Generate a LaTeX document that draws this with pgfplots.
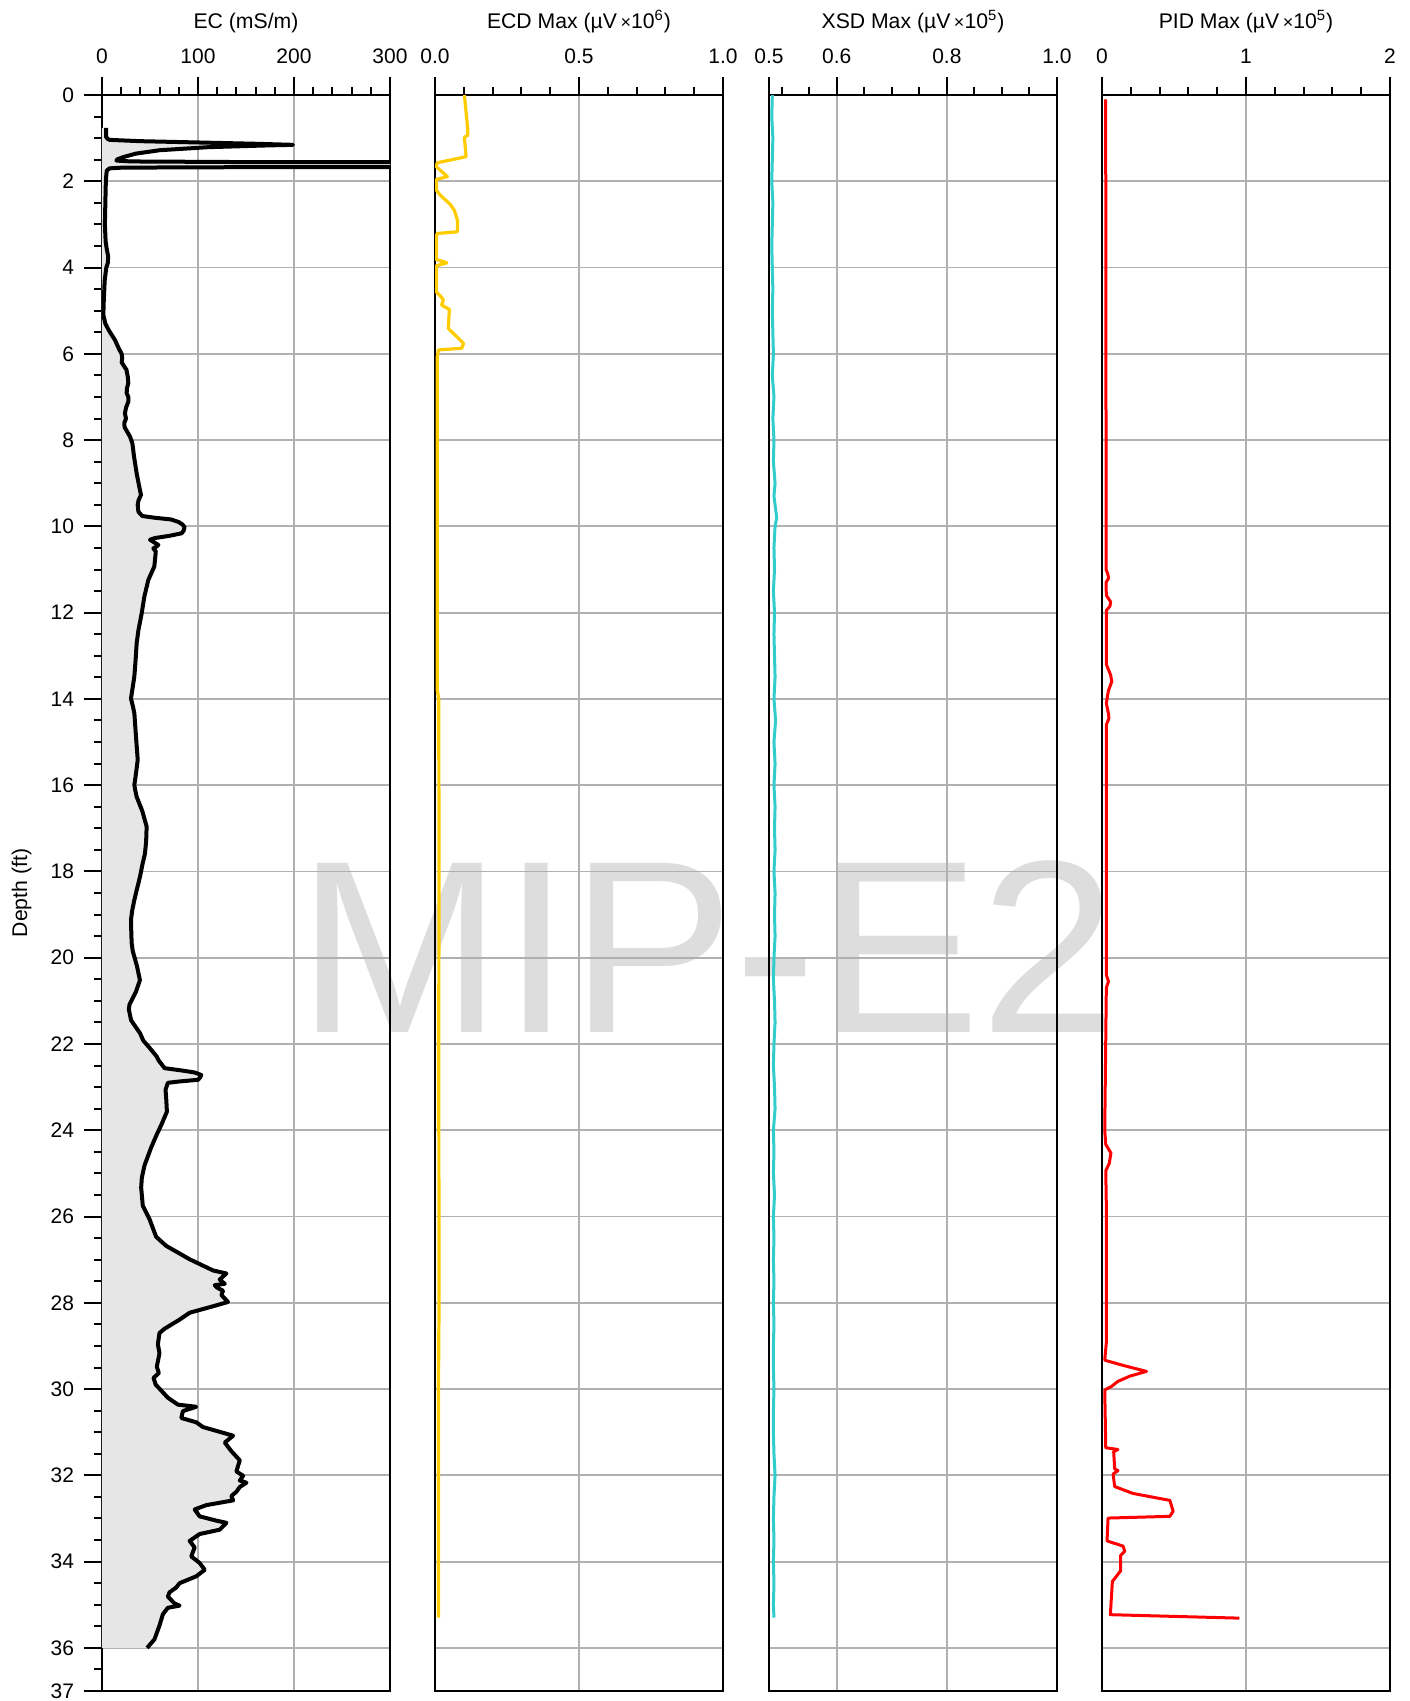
\documentclass[border=0pt]{standalone}
\usepackage{fontspec}
\setmainfont{Liberation Sans}
\usepackage{pgfplots}
\usepackage{pgfplotstable}
\pgfplotsset{compat=1.18}
\definecolor{wm}{HTML}{DDDDDD}
\definecolor{gridc}{HTML}{B0B0B0}
\definecolor{fillc}{HTML}{E6E6E6}
\definecolor{ecdc}{HTML}{FFCC00}
\definecolor{xsdc}{HTML}{33CCCC}
\definecolor{pidc}{HTML}{FF0000}

\pgfplotstableread{
d ec
0.76 4.2
0.97 4.2
1.02 6
1.04 8
1.07 40
1.10 100
1.13 160
1.155 199
1.17 170
1.21 110
1.28 60
1.36 35
1.44 22
1.49 16
1.52 15
1.54 30
1.555 150
1.565 700
1.665 700
1.675 100
1.685 20
1.70 8
1.75 5
1.85 4.5
2.0 4
2.5 3.5
3.0 3.0
3.4 3.8
3.55 4.8
3.75 6.5
3.9 6
4.0 4.5
4.3 2.8
4.8 1.8
5.1 1.4
5.3 3.5
5.45 7
5.68 13.5
5.9 18
6.0 20.5
6.1 21
6.2 20.5
6.37 25.5
6.55 27
6.68 27.4
6.8 26
6.91 25.7
7.0 27.4
7.11 27.4
7.25 25
7.38 23.9
7.5 25
7.6 23.3
7.7 23.5
7.92 29.2
8.07 31.6
8.4 33.5
8.77 36.1
9.1 39
9.27 40.6
9.4 38
9.5 37.2
9.66 37.9
9.76 42
9.80 55
9.84 72
9.9 80
9.96 84
10.02 86
10.1 85
10.16 83
10.22 70
10.27 55.2
10.31 50
10.38 55
10.43 58.7
10.48 56
10.51 53.5
10.58 56
10.62 55.9
10.93 54.5
11.24 48.3
11.63 44.1
12.02 41.3
12.4 38
12.71 36.1
13.1 35
13.48 33.7
13.8 31.5
13.99 30.2
14.15 32
14.33 33.7
14.9 35.5
15.41 37.2
15.8 35
15.99 33.7
16.1 34.5
16.27 36.1
16.6 42
16.96 46.5
17.3 46
17.58 44.8
17.85 42
18.12 39.6
18.4 36.5
18.66 33.7
18.9 31.5
19.12 30.2
19.4 30.5
19.66 30.9
19.84 32
20.2 36.5
20.52 39.5
20.78 35.5
21.09 28.6
21.2 28
21.45 30.3
21.75 39.6
21.92 43
22.1 50
22.29 57
22.38 59
22.56 65.2
22.62 85
22.66 96.5
22.72 103.5
22.78 102
22.83 100
22.87 80
22.9 68.6
23.06 66.2
23.3 67
23.57 67.6
23.88 61.7
24.1 57
24.4 51.2
24.82 44.2
25.1 41.5
25.33 40.8
25.75 42.5
26.06 49.5
26.47 56.4
26.68 66.9
26.99 91.3
27.25 115.7
27.32 129.6
27.46 122.6
27.56 127.9
27.59 117.4
27.65 120
27.72 126.1
27.82 124.4
27.98 131.3
28.08 115.7
28.23 91.3
28.39 80.8
28.6 65.2
28.7 59.9
28.96 58.2
29.17 59.9
29.48 57.1
29.63 59.2
29.74 53.7
29.9 56
29.99 59.9
30.2 68.6
30.36 79.1
30.41 98.2
30.51 84.3
30.67 82.6
30.77 98.2
30.88 105.2
31.08 136.6
31.24 127.9
31.44 134.8
31.65 143.5
31.91 140
32.01 147
32.12 143.5
32.17 150.5
32.27 143.5
32.38 140
32.48 134.8
32.58 136.6
32.69 108.7
32.79 96.5
32.95 101.7
33.05 119.1
33.1 129.6
33.26 122.6
33.36 101.7
33.52 91.3
33.67 96.5
33.88 93
34.03 101.7
34.19 107
34.34 98.2
34.5 80.8
34.6 77.3
34.71 70.4
34.81 68.6
34.97 75.6
35.02 80.8
35.07 68.6
35.22 63.4
35.48 59.9
35.8 54.7
36.0 47
}\ectab

\pgfplotstableread{
d v
0.0 0.102
0.81 0.114
0.93 0.114
0.98 0.102
1.43 0.108
1.57 0.008
1.66 0.004
1.89 0.043
1.96 0.004
2.2 0.004
2.32 0.018
2.53 0.052
2.67 0.067
2.9 0.078
3.17 0.078
3.21 0.008
3.28 0.004
3.81 0.004
3.89 0.041
3.96 0.004
4.56 0.004
4.67 0.02
4.75 0.029
4.87 0.023
4.97 0.05
5.41 0.046
5.6 0.075
5.76 0.099
5.87 0.093
5.91 0.012
6.07 0.008
10 0.008
13.8 0.008
14.0 0.013
18 0.014
22 0.013
28 0.014
30 0.012
35.3 0.012
}\ecdtab

\pgfplotstableread{
d v
0 0.483
0.5 0.482
1 0.484
1.5 0.483
2 0.482
2.5 0.484
3 0.483
3.5 0.482
4 0.483
4.5 0.484
5 0.483
5.5 0.484
6 0.485
6.5 0.483
7 0.486
7.5 0.484
8 0.486
8.5 0.485
9 0.488
9.3 0.486
9.6 0.489
9.8 0.491
10 0.488
10.5 0.486
11 0.487
11.5 0.485
12 0.487
12.5 0.486
13 0.487
13.5 0.488
14 0.486
14.5 0.489
15 0.486
15.5 0.488
16 0.486
16.5 0.488
17 0.487
17.5 0.488
18 0.486
18.5 0.488
19 0.487
19.5 0.488
20 0.486
20.5 0.485
21 0.487
21.5 0.488
22 0.486
22.5 0.485
23 0.487
23.5 0.488
24 0.485
24.5 0.486
25 0.485
25.5 0.487
26 0.485
26.5 0.486
27 0.485
27.5 0.486
28 0.485
28.5 0.486
29 0.485
29.5 0.485
30 0.486
30.5 0.485
31 0.485
31.5 0.486
32 0.488
32.5 0.486
33 0.485
33.5 0.486
34 0.485
34.5 0.486
35 0.485
35.3 0.486
}\xsdtab

\pgfplotstableread{
d v
0.1 0.025
2 0.026
4 0.027
6 0.027
8 0.028
10 0.029
11.0 0.028
11.1 0.040
11.2 0.046
11.3 0.028
11.6 0.030
11.75 0.060
11.85 0.055
11.95 0.030
13.2 0.030
13.45 0.060
13.6 0.068
13.8 0.045
14.1 0.030
14.35 0.045
14.45 0.048
14.6 0.030
20.4 0.030
20.55 0.045
20.7 0.030
24.0 0.019
24.33 0.026
24.53 0.062
24.77 0.050
24.94 0.026
25.75 0.030
28.92 0.030
29.33 0.019
29.45 0.146
29.59 0.309
29.70 0.193
29.82 0.111
29.94 0.065
30.02 0.019
31.36 0.026
31.40 0.111
31.45 0.081
31.85 0.088
31.89 0.111
31.97 0.077
32.26 0.088
32.42 0.216
32.58 0.471
32.83 0.494
32.95 0.471
32.99 0.042
33.52 0.035
33.64 0.146
33.76 0.158
33.85 0.130
34.21 0.130
34.46 0.072
35.23 0.058
35.31 0.954
}\pidtab

\pgfplotsset{
  panel/.style={
    scale only axis, width=144pt, height=798pt,
    anchor=north west,
    y dir=reverse, ymin=0, ymax=37,
    axis line style={line width=1.2pt},
    every tick/.style={black, line width=1pt},
    major tick length=9pt, minor tick length=4pt,
    tick align=outside,
    xtick pos=upper, xticklabel pos=upper,
    ytick={0,2,...,36,37},
    grid=major,
    major grid style={gridc, line width=0.9pt},
    ticklabel style={font=\fontsize{10.5}{12}\selectfont},
    xticklabel style={yshift=3pt},
    yticklabel style={xshift=-1.5pt},
    /pgf/number format/assume math mode=true,
  },
  noy/.style={
    yticklabels={},
    y tick style={draw=none},
  }
}

\begin{document}
\begin{tikzpicture}
\path[use as bounding box] (0pt,0pt) rectangle (704.5pt,-850.5pt);
\node[text=wm, inner sep=0pt, font=\fontsize{123}{123}\selectfont] at (353.75pt,-473.25pt) {MIP-E2};

% EC
\begin{axis}[panel, at={(51pt,-47.5pt)},
  xmin=0, xmax=300, xtick={0,100,200,300},
  minor xtick={20,40,60,80,120,140,160,180,220,240,260,280},
  yticklabels={0,2,4,6,8,10,12,14,16,18,20,22,24,26,28,30,32,34,36,37},
  minor ytick={0,0.5,...,37},
  ytick pos=left]
\addplot[fill=fillc, draw=none] table[x=ec,y=d]{\ectab} -- (axis cs:0,36) -- (axis cs:0,0.76) -- cycle;
\addplot[black, line width=2pt, line join=round] table[x=ec,y=d]{\ectab};
\end{axis}

% ECD
\begin{axis}[panel, noy, at={(217.5pt,-47.5pt)},
  xmin=0, xmax=1, xtick={0,0.5,1}, xticklabels={0.0,0.5,1.0},
  minor xtick={0.1,0.2,0.3,0.4,0.6,0.7,0.8,0.9}]
\addplot[ecdc, line width=1.6pt, line join=round] table[x=v,y=d]{\ecdtab};
\end{axis}

% XSD
\begin{axis}[panel, noy, at={(384.5pt,-47.5pt)},
  xmin=0.477, xmax=1, xtick={0.477,0.6,0.8,1}, xticklabels={0.5,0.6,0.8,1.0},
  minor xtick={0.5,0.55,0.65,0.7,0.75,0.85,0.9,0.95}]
\addplot[xsdc, line width=1.5pt, line join=round] table[x=v,y=d]{\xsdtab};
\end{axis}

% PID
\begin{axis}[panel, noy, at={(551pt,-47.5pt)},
  xmin=0, xmax=2, xtick={0,1,2},
  minor xtick={0.2,0.4,0.6,0.8,1.2,1.4,1.6,1.8}]
\addplot[pidc, line width=1.5pt, line join=round] table[x=v,y=d]{\pidtab};
\end{axis}

\def\tfont{\fontsize{10.6}{12}\selectfont}
\node[anchor=base, font=\tfont] at (123pt,-14.2pt) {EC (mS/m)};
\node[anchor=base, font=\tfont] at (289.5pt,-14.2pt) {ECD Max (µV\,{\small×}10\textsuperscript{6})};
\node[anchor=base, font=\tfont] at (456.5pt,-14.2pt) {XSD Max (µV\,{\small×}10\textsuperscript{5})};
\node[anchor=base, font=\tfont] at (623pt,-14.2pt) {PID Max (µV\,{\small×}10\textsuperscript{5})};
\node[rotate=90, font=\tfont] at (10.8pt,-446.5pt) {Depth (ft)};
\end{tikzpicture}
\end{document}
